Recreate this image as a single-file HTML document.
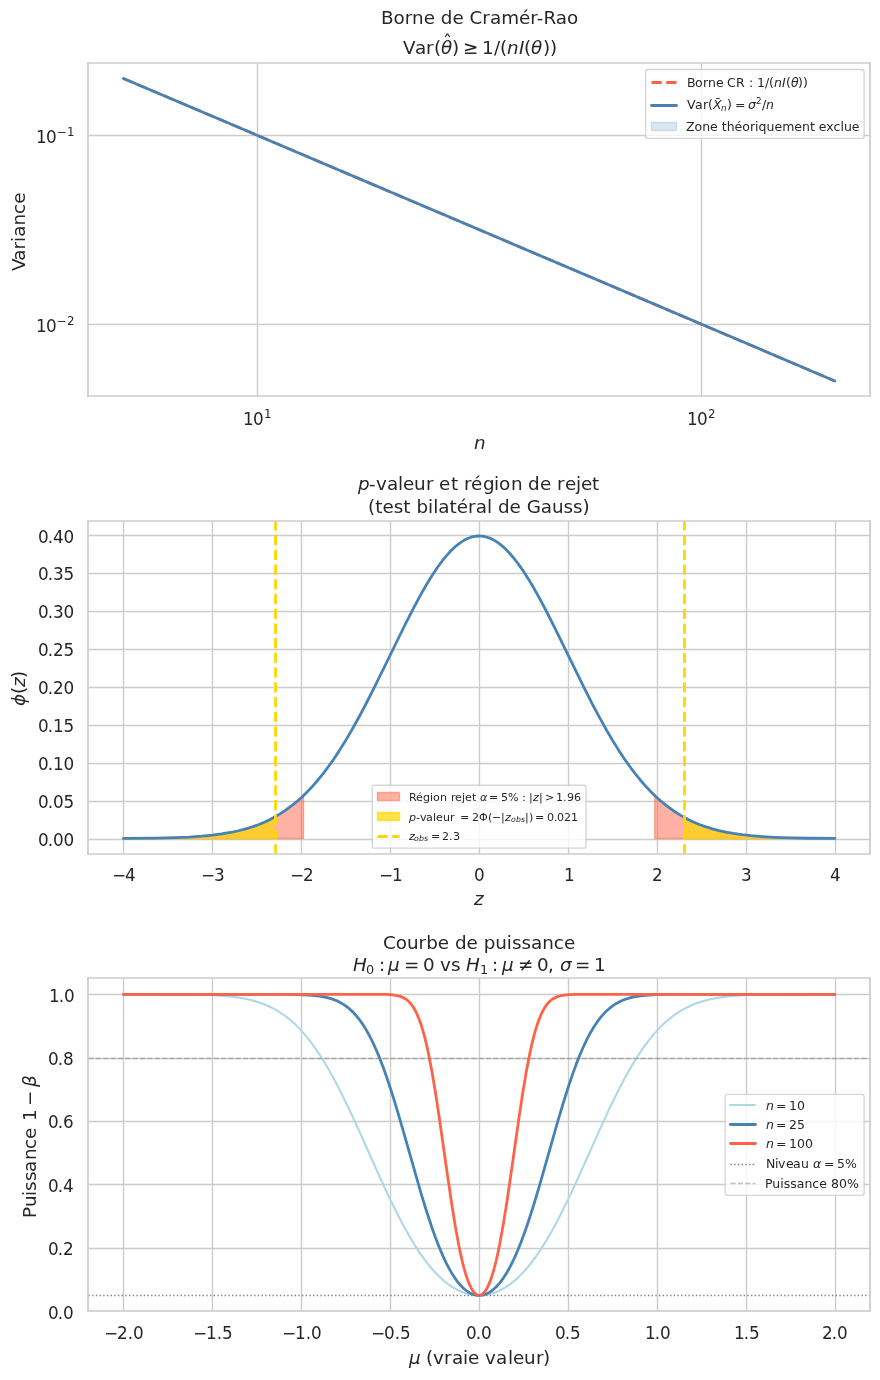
<!DOCTYPE html>
<html lang="fr">
<head>
<meta charset="utf-8">
<title>Borne de Cramér-Rao, p-valeur et courbe de puissance</title>
<style>
html,body{margin:0;padding:0;background:#ffffff;}
#fig{position:relative;width:880px;height:1380px;overflow:hidden;background:#ffffff;}
#fig svg{display:block;}
#fig text{white-space:pre;}
</style>
</head>
<body>
<div id="fig">
<svg width="880" height="1380" viewBox="7.0560 7.3440 633.6000 993.6000" style="position:absolute;left:0;top:0">
 <defs>
  <style type="text/css">*{stroke-linejoin: round; stroke-linecap: butt}</style>
 </defs>
 <g id="figure_1">
  <g id="patch_1">
   <path d="M -0.144 1008.144 L 647.856 1008.144 L 647.856 0.144 L -0.144 0.144 z" style="fill: #ffffff"/>
  </g>
  <g id="axes_1">
   <g id="patch_2">
    <path d="M 70.416 292.464 L 633.456 292.464 L 633.456 52.704 L 70.416 52.704 z" style="fill: #ffffff"/>
   </g>
   <g id="matplotlib.axis_1">
    <g id="xtick_1">
     <g id="line2d_1">
      <path d="M 192.456 292.824 L 192.456 53.064" clip-path="url(#p249465bc38)" style="fill: none; stroke: #cccccc; stroke-linecap: round"/>
     </g>
     <g id="text_1">
      <g transform="translate(181.296 316.224) scale(0.72)" style="fill: #262626">
       <text xml:space="preserve"><tspan x="1 11" y="-4" style="font-size: 16.806px; font-family: 'DejaVu Sans', 'Liberation Sans', sans-serif">10</tspan><tspan x="22" y="-11" style="font-size: 11.764px; font-family: 'DejaVu Sans', 'Liberation Sans', sans-serif">1</tspan></text>
      </g>
     </g>
    </g>
    <g id="xtick_2">
     <g id="line2d_2">
      <path d="M 512.136 292.824 L 512.136 53.064" clip-path="url(#p249465bc38)" style="fill: none; stroke: #cccccc; stroke-linecap: round"/>
     </g>
     <g id="text_2">
      <g transform="translate(500.976 316.224) scale(0.72)" style="fill: #262626">
       <text xml:space="preserve"><tspan x="1 11" y="-4" style="font-size: 16.806px; font-family: 'DejaVu Sans', 'Liberation Sans', sans-serif">10</tspan><tspan x="22" y="-11" style="font-size: 11.764px; font-family: 'DejaVu Sans', 'Liberation Sans', sans-serif">2</tspan></text>
      </g>
     </g>
    </g>
    <g id="xtick_3"/>
    <g id="xtick_4"/>
    <g id="xtick_5"/>
    <g id="xtick_6"/>
    <g id="xtick_7"/>
    <g id="xtick_8"/>
    <g id="xtick_9"/>
    <g id="xtick_10"/>
    <g id="xtick_11"/>
    <g id="xtick_12"/>
    <g id="xtick_13"/>
    <g id="xtick_14"/>
    <g id="xtick_15"/>
    <g id="xtick_16"/>
    <g id="text_3">
     <g transform="translate(347.616 332.784) scale(0.72)" style="fill: #262626">
      <text xml:space="preserve"><tspan x="1" y="-3" style="font-style: oblique; font-size: 18.333px; font-family: 'DejaVu Sans', 'Liberation Sans', sans-serif">n</tspan></text>
     </g>
    </g>
   </g>
   <g id="matplotlib.axis_2">
    <g id="ytick_1">
     <g id="line2d_3">
      <path d="M 70.776 240.984 L 633.816 240.984" clip-path="url(#p249465bc38)" style="fill: none; stroke: #cccccc; stroke-linecap: round"/>
     </g>
     <g id="text_4">
      <g transform="translate(32.256 249.264) scale(0.72)" style="fill: #262626">
       <text xml:space="preserve"><tspan x="1 11" y="-4" style="font-size: 16.806px; font-family: 'DejaVu Sans', 'Liberation Sans', sans-serif">10</tspan><tspan x="22 32" y="-11" style="font-size: 11.764px; font-family: 'DejaVu Sans', 'Liberation Sans', sans-serif">−2</tspan></text>
      </g>
     </g>
    </g>
    <g id="ytick_2">
     <g id="line2d_4">
      <path d="M 70.776 104.904 L 633.816 104.904" clip-path="url(#p249465bc38)" style="fill: none; stroke: #cccccc; stroke-linecap: round"/>
     </g>
     <g id="text_5">
      <g transform="translate(32.256 113.184) scale(0.72)" style="fill: #262626">
       <text xml:space="preserve"><tspan x="1 11" y="-4" style="font-size: 16.806px; font-family: 'DejaVu Sans', 'Liberation Sans', sans-serif">10</tspan><tspan x="22 32" y="-11" style="font-size: 11.764px; font-family: 'DejaVu Sans', 'Liberation Sans', sans-serif">−1</tspan></text>
      </g>
     </g>
    </g>
    <g id="ytick_3"/>
    <g id="ytick_4"/>
    <g id="ytick_5"/>
    <g id="ytick_6"/>
    <g id="ytick_7"/>
    <g id="ytick_8"/>
    <g id="ytick_9"/>
    <g id="ytick_10"/>
    <g id="ytick_11"/>
    <g id="ytick_12"/>
    <g id="ytick_13"/>
    <g id="ytick_14"/>
    <g id="ytick_15"/>
    <g id="ytick_16"/>
    <g id="text_6">
     <text transform="translate(25.776 202.464) rotate(-90) scale(0.72)" style="font-size: 18.333px; font-family: 'DejaVu Sans', 'Liberation Sans', sans-serif; fill: #262626" x="0 10.25 21.5 29.125 34.25 45.5 57.125 67.25" y="-1">Variance</text>
    </g>
   </g>
   <g id="line2d_5">
    <path d="M 95.935909 63.799636 L 608.134091 281.632364 L 608.134091 281.632364" clip-path="url(#p249465bc38)" style="fill: none; stroke-dasharray: 7.4,3.2; stroke-dashoffset: 0; stroke: #ff6347; stroke-width: 2"/>
   </g>
   <g id="line2d_6">
    <path d="M 95.935909 63.799636 L 608.134091 281.632364 L 608.134091 281.632364" clip-path="url(#p249465bc38)" style="fill: none; stroke: #4682b4; stroke-width: 2; stroke-linecap: round"/>
   </g>
   <g id="patch_3">
    <path d="M 70.416 292.464 L 70.416 52.704" style="fill: none; stroke: #cccccc; stroke-width: 1.25; stroke-linejoin: miter; stroke-linecap: square"/>
   </g>
   <g id="patch_4">
    <path d="M 633.456 292.464 L 633.456 52.704" style="fill: none; stroke: #cccccc; stroke-width: 1.25; stroke-linejoin: miter; stroke-linecap: square"/>
   </g>
   <g id="patch_5">
    <path d="M 70.416 292.464 L 633.456 292.464" style="fill: none; stroke: #cccccc; stroke-width: 1.25; stroke-linejoin: miter; stroke-linecap: square"/>
   </g>
   <g id="patch_6">
    <path d="M 70.416 52.704 L 633.456 52.704" style="fill: none; stroke: #cccccc; stroke-width: 1.25; stroke-linejoin: miter; stroke-linecap: square"/>
   </g>
   <g id="text_7">
    <text transform="translate(281.376 25.344) scale(0.72)" style="font-size: 18.333px; font-family: 'DejaVu Sans', 'Liberation Sans', sans-serif; fill: #262626" x="0 12.5 23.75 31 42.625 53.875 59.75 71.375 82.625 88.5 101.25 108.875 120.125 138 149.25 155.75 162.375 174.75 186" y="-1">Borne de Cramér-Rao</text>
    <g transform="translate(296.496 50.544) scale(0.72)" style="fill: #262626">
     <text xml:space="preserve"><tspan x="1 13 24 32" y="-6" style="font-size: 18.333px; font-family: 'DejaVu Sans', 'Liberation Sans', sans-serif">Var(</tspan><tspan x="50" y="-12" style="font-size: 18.333px; font-family: 'DejaVu Sans', 'Liberation Sans', sans-serif">̂</tspan><tspan x="39" y="-6" style="font-style: oblique; font-size: 18.333px; font-family: 'DejaVu Sans', 'Liberation Sans', sans-serif">θ</tspan><tspan x="50 61 80 92 98" y="-6" style="font-size: 18.333px; font-family: 'DejaVu Sans', 'Liberation Sans', sans-serif">)≥1/(</tspan><tspan x="105 117" y="-6" style="font-style: oblique; font-size: 18.333px; font-family: 'DejaVu Sans', 'Liberation Sans', sans-serif">nI</tspan><tspan x="122" y="-6" style="font-size: 18.333px; font-family: 'DejaVu Sans', 'Liberation Sans', sans-serif">(</tspan><tspan x="129" y="-6" style="font-style: oblique; font-size: 18.333px; font-family: 'DejaVu Sans', 'Liberation Sans', sans-serif">θ</tspan><tspan x="141 148" y="-6" style="font-size: 18.333px; font-family: 'DejaVu Sans', 'Liberation Sans', sans-serif">))</tspan></text>
    </g>
   </g>
   <g id="legend_1">
    <g id="patch_7">
     <path d="M 473.724 107.00475 L 627.444 107.00475 Q 629.244 107.00475 629.244 105.20475 L 629.244 59.208 Q 629.244 57.408 627.444 57.408 L 473.724 57.408 Q 471.924 57.408 471.924 59.208 L 471.924 105.20475 Q 471.924 107.00475 473.724 107.00475 z
" style="fill: #ffffff; stroke: #cccccc; stroke-linejoin: miter; fill-opacity: 0.8; stroke-opacity: 0.8"/>
    </g>
    <g id="line2d_7">
     <path d="M 476.136 66.744 L 484.776 66.744 L 494.136 66.744" style="fill: none; stroke-dasharray: 7.4,3.2; stroke-dashoffset: 0; stroke: #ff6347; stroke-width: 2"/>
    </g>
    <g id="text_8">
     <g transform="translate(500.976 72.864) scale(0.72)" style="fill: #262626">
      <text xml:space="preserve"><tspan x="1 9 17 22 30 37 41 50 59 63 67 71 79 83" y="-4" style="font-size: 12.5px; font-family: 'DejaVu Sans', 'Liberation Sans', sans-serif">Borne CR : 1/(</tspan><tspan x="88 96" y="-4" style="font-style: oblique; font-size: 12.5px; font-family: 'DejaVu Sans', 'Liberation Sans', sans-serif">nI</tspan><tspan x="100" y="-4" style="font-size: 12.5px; font-family: 'DejaVu Sans', 'Liberation Sans', sans-serif">(</tspan><tspan x="105" y="-4" style="font-style: oblique; font-size: 12.5px; font-family: 'DejaVu Sans', 'Liberation Sans', sans-serif">θ</tspan><tspan x="112 117" y="-4" style="font-size: 12.5px; font-family: 'DejaVu Sans', 'Liberation Sans', sans-serif">))</tspan></text>
     </g>
    </g>
    <g id="line2d_8">
     <path d="M 476.136 83.304 L 484.776 83.304 L 494.136 83.304" style="fill: none; stroke: #4682b4; stroke-width: 2; stroke-linecap: round"/>
    </g>
    <g id="text_9">
     <g transform="translate(500.976 90.864) scale(0.72)" style="fill: #262626">
      <text xml:space="preserve"><tspan x="1 9 17 22" y="-7" style="font-size: 12.5px; font-family: 'DejaVu Sans', 'Liberation Sans', sans-serif">Var(</tspan><tspan x="35" y="-9" style="font-size: 12.5px; font-family: 'DejaVu Sans', 'Liberation Sans', sans-serif">̄</tspan><tspan x="27" y="-7" style="font-style: oblique; font-size: 12.5px; font-family: 'DejaVu Sans', 'Liberation Sans', sans-serif">X</tspan><tspan x="35" y="-5" style="font-style: oblique; font-size: 8.75px; font-family: 'DejaVu Sans', 'Liberation Sans', sans-serif">n</tspan><tspan x="41 49" y="-7" style="font-size: 12.5px; font-family: 'DejaVu Sans', 'Liberation Sans', sans-serif">)=</tspan><tspan x="62" y="-7" style="font-style: oblique; font-size: 12.5px; font-family: 'DejaVu Sans', 'Liberation Sans', sans-serif">σ</tspan><tspan x="70" y="-12" style="font-size: 8.75px; font-family: 'DejaVu Sans', 'Liberation Sans', sans-serif">2</tspan><tspan x="76" y="-7" style="font-size: 12.5px; font-family: 'DejaVu Sans', 'Liberation Sans', sans-serif">/</tspan><tspan x="80" y="-7" style="font-style: oblique; font-size: 12.5px; font-family: 'DejaVu Sans', 'Liberation Sans', sans-serif">n</tspan></text>
     </g>
    </g>
    <g id="patch_8">
     <path d="M 476.136 101.304 L 494.136 101.304 L 494.136 95.544 L 476.136 95.544 z" style="fill: #4682b4; stroke: #4682b4; stroke-linejoin: miter; fill-opacity: 0.2; stroke-opacity: 0.2"/>
    </g>
    <g id="text_10">
     <text transform="translate(500.976 104.544) scale(0.72)" style="font-size: 12.5px; font-family: 'DejaVu Sans', 'Liberation Sans', sans-serif; fill: #262626" x="0 8.5 16.125 24 31.75 35.75 40.625 48.5 56.25 63.875 69 72.5 80.5 88.375 96.125 108.25 116 123.875 128.75 132.75 140.25 147.375 154.375 157.875 165.75" y="-4">Zone théoriquement exclue</text>
    </g>
   </g>
  </g>
  <g id="axes_2">
   <g id="patch_9">
    <path d="M 70.416 622.224 L 633.456 622.224 L 633.456 382.464 L 70.416 382.464 z" style="fill: #ffffff"/>
   </g>
   <g id="matplotlib.axis_3">
    <g id="xtick_17">
     <g id="line2d_9">
      <path d="M 95.976 622.584 L 95.976 382.824" clip-path="url(#pec4d57082e)" style="fill: none; stroke: #cccccc; stroke-linecap: round"/>
     </g>
     <g id="text_11">
      <text transform="translate(88.416 642.384) scale(0.72)" style="font-size: 16.806px; font-family: 'DejaVu Sans', 'Liberation Sans', sans-serif; fill: #262626" x="-1 12" y="-1">−4</text>
     </g>
    </g>
    <g id="xtick_18">
     <g id="line2d_10">
      <path d="M 160.056 622.584 L 160.056 382.824" clip-path="url(#pec4d57082e)" style="fill: none; stroke: #cccccc; stroke-linecap: round"/>
     </g>
     <g id="text_12">
      <text transform="translate(152.496 642.384) scale(0.72)" style="font-size: 16.806px; font-family: 'DejaVu Sans', 'Liberation Sans', sans-serif; fill: #262626" x="-1 12" y="-1">−3</text>
     </g>
    </g>
    <g id="xtick_19">
     <g id="line2d_11">
      <path d="M 224.136 622.584 L 224.136 382.824" clip-path="url(#pec4d57082e)" style="fill: none; stroke: #cccccc; stroke-linecap: round"/>
     </g>
     <g id="text_13">
      <text transform="translate(216.576 642.384) scale(0.72)" style="font-size: 16.806px; font-family: 'DejaVu Sans', 'Liberation Sans', sans-serif; fill: #262626" x="-1 12" y="-1">−2</text>
     </g>
    </g>
    <g id="xtick_20">
     <g id="line2d_12">
      <path d="M 288.216 622.584 L 288.216 382.824" clip-path="url(#pec4d57082e)" style="fill: none; stroke: #cccccc; stroke-linecap: round"/>
     </g>
     <g id="text_14">
      <text transform="translate(280.656 642.384) scale(0.72)" style="font-size: 16.806px; font-family: 'DejaVu Sans', 'Liberation Sans', sans-serif; fill: #262626" x="-1 12" y="-1">−1</text>
     </g>
    </g>
    <g id="xtick_21">
     <g id="line2d_13">
      <path d="M 352.296 622.584 L 352.296 382.824" clip-path="url(#pec4d57082e)" style="fill: none; stroke: #cccccc; stroke-linecap: round"/>
     </g>
     <g id="text_15">
      <text transform="translate(349.056 642.384) scale(0.72)" style="font-size: 16.806px; font-family: 'DejaVu Sans', 'Liberation Sans', sans-serif; fill: #262626" x="-1" y="-1">0</text>
     </g>
    </g>
    <g id="xtick_22">
     <g id="line2d_14">
      <path d="M 416.376 622.584 L 416.376 382.824" clip-path="url(#pec4d57082e)" style="fill: none; stroke: #cccccc; stroke-linecap: round"/>
     </g>
     <g id="text_16">
      <text transform="translate(413.856 642.384) scale(0.72)" style="font-size: 16.806px; font-family: 'DejaVu Sans', 'Liberation Sans', sans-serif; fill: #262626" x="-1" y="-1">1</text>
     </g>
    </g>
    <g id="xtick_23">
     <g id="line2d_15">
      <path d="M 480.456 622.584 L 480.456 382.824" clip-path="url(#pec4d57082e)" style="fill: none; stroke: #cccccc; stroke-linecap: round"/>
     </g>
     <g id="text_17">
      <text transform="translate(477.216 642.384) scale(0.72)" style="font-size: 16.806px; font-family: 'DejaVu Sans', 'Liberation Sans', sans-serif; fill: #262626" x="-1" y="-1">2</text>
     </g>
    </g>
    <g id="xtick_24">
     <g id="line2d_16">
      <path d="M 544.536 622.584 L 544.536 382.824" clip-path="url(#pec4d57082e)" style="fill: none; stroke: #cccccc; stroke-linecap: round"/>
     </g>
     <g id="text_18">
      <text transform="translate(541.296 642.384) scale(0.72)" style="font-size: 16.806px; font-family: 'DejaVu Sans', 'Liberation Sans', sans-serif; fill: #262626" x="-1" y="-1">3</text>
     </g>
    </g>
    <g id="xtick_25">
     <g id="line2d_17">
      <path d="M 608.616 622.584 L 608.616 382.824" clip-path="url(#pec4d57082e)" style="fill: none; stroke: #cccccc; stroke-linecap: round"/>
     </g>
     <g id="text_19">
      <text transform="translate(604.656 642.384) scale(0.72)" style="font-size: 16.806px; font-family: 'DejaVu Sans', 'Liberation Sans', sans-serif; fill: #262626" x="0" y="-1">4</text>
     </g>
    </g>
    <g id="text_20">
     <g transform="translate(347.616 661.104) scale(0.72)" style="fill: #262626">
      <text xml:space="preserve"><tspan x="1" y="-3" style="font-style: oblique; font-size: 18.333px; font-family: 'DejaVu Sans', 'Liberation Sans', sans-serif">z</tspan></text>
     </g>
    </g>
   </g>
   <g id="matplotlib.axis_4">
    <g id="ytick_17">
     <g id="line2d_18">
      <path d="M 70.776 611.784 L 633.816 611.784" clip-path="url(#pec4d57082e)" style="fill: none; stroke: #cccccc; stroke-linecap: round"/>
     </g>
     <g id="text_21">
      <text transform="translate(35.136 617.184) scale(0.72)" style="font-size: 16.806px; font-family: 'DejaVu Sans', 'Liberation Sans', sans-serif; fill: #262626" x="-1 8.625 13.875 24.5" y="-1">0.00</text>
     </g>
    </g>
    <g id="ytick_18">
     <g id="line2d_19">
      <path d="M 70.776 584.424 L 633.816 584.424" clip-path="url(#pec4d57082e)" style="fill: none; stroke: #cccccc; stroke-linecap: round"/>
     </g>
     <g id="text_22">
      <text transform="translate(35.136 589.824) scale(0.72)" style="font-size: 16.806px; font-family: 'DejaVu Sans', 'Liberation Sans', sans-serif; fill: #262626" x="-1 8.625 13.875 24.5" y="-1">0.05</text>
     </g>
    </g>
    <g id="ytick_19">
     <g id="line2d_20">
      <path d="M 70.776 557.064 L 633.816 557.064" clip-path="url(#pec4d57082e)" style="fill: none; stroke: #cccccc; stroke-linecap: round"/>
     </g>
     <g id="text_23">
      <text transform="translate(35.136 562.464) scale(0.72)" style="font-size: 16.806px; font-family: 'DejaVu Sans', 'Liberation Sans', sans-serif; fill: #262626" x="-1 8.625 13.875 24.5" y="-1">0.10</text>
     </g>
    </g>
    <g id="ytick_20">
     <g id="line2d_21">
      <path d="M 70.776 529.704 L 633.816 529.704" clip-path="url(#pec4d57082e)" style="fill: none; stroke: #cccccc; stroke-linecap: round"/>
     </g>
     <g id="text_24">
      <text transform="translate(35.136 535.104) scale(0.72)" style="font-size: 16.806px; font-family: 'DejaVu Sans', 'Liberation Sans', sans-serif; fill: #262626" x="-1 8.625 13.875 24.5" y="-1">0.15</text>
     </g>
    </g>
    <g id="ytick_21">
     <g id="line2d_22">
      <path d="M 70.776 502.344 L 633.816 502.344" clip-path="url(#pec4d57082e)" style="fill: none; stroke: #cccccc; stroke-linecap: round"/>
     </g>
     <g id="text_25">
      <text transform="translate(35.136 507.744) scale(0.72)" style="font-size: 16.806px; font-family: 'DejaVu Sans', 'Liberation Sans', sans-serif; fill: #262626" x="-1 8.625 13.875 24.5" y="-1">0.20</text>
     </g>
    </g>
    <g id="ytick_22">
     <g id="line2d_23">
      <path d="M 70.776 474.984 L 633.816 474.984" clip-path="url(#pec4d57082e)" style="fill: none; stroke: #cccccc; stroke-linecap: round"/>
     </g>
     <g id="text_26">
      <text transform="translate(35.136 480.384) scale(0.72)" style="font-size: 16.806px; font-family: 'DejaVu Sans', 'Liberation Sans', sans-serif; fill: #262626" x="-1 8.625 13.875 24.5" y="-1">0.25</text>
     </g>
    </g>
    <g id="ytick_23">
     <g id="line2d_24">
      <path d="M 70.776 447.624 L 633.816 447.624" clip-path="url(#pec4d57082e)" style="fill: none; stroke: #cccccc; stroke-linecap: round"/>
     </g>
     <g id="text_27">
      <text transform="translate(35.136 453.024) scale(0.72)" style="font-size: 16.806px; font-family: 'DejaVu Sans', 'Liberation Sans', sans-serif; fill: #262626" x="-1 8.625 13.875 24.5" y="-1">0.30</text>
     </g>
    </g>
    <g id="ytick_24">
     <g id="line2d_25">
      <path d="M 70.776 420.264 L 633.816 420.264" clip-path="url(#pec4d57082e)" style="fill: none; stroke: #cccccc; stroke-linecap: round"/>
     </g>
     <g id="text_28">
      <text transform="translate(35.136 425.664) scale(0.72)" style="font-size: 16.806px; font-family: 'DejaVu Sans', 'Liberation Sans', sans-serif; fill: #262626" x="-1 8.625 13.875 24.5" y="-1">0.35</text>
     </g>
    </g>
    <g id="ytick_25">
     <g id="line2d_26">
      <path d="M 70.776 392.904 L 633.816 392.904" clip-path="url(#pec4d57082e)" style="fill: none; stroke: #cccccc; stroke-linecap: round"/>
     </g>
     <g id="text_29">
      <text transform="translate(35.136 399.024) scale(0.72)" style="font-size: 16.806px; font-family: 'DejaVu Sans', 'Liberation Sans', sans-serif; fill: #262626" x="-1 8.625 13.875 24.5" y="-1">0.40</text>
     </g>
    </g>
    <g id="text_30">
     <g transform="translate(30.096 516.384) rotate(-90) scale(0.72)" style="fill: #262626">
      <text xml:space="preserve"><tspan x="1" y="-7" style="font-style: oblique; font-size: 18.333px; font-family: 'DejaVu Sans', 'Liberation Sans', sans-serif">ϕ</tspan><tspan x="13" y="-7" style="font-size: 18.333px; font-family: 'DejaVu Sans', 'Liberation Sans', sans-serif">(</tspan><tspan x="20" y="-7" style="font-style: oblique; font-size: 18.333px; font-family: 'DejaVu Sans', 'Liberation Sans', sans-serif">z</tspan><tspan x="29" y="-7" style="font-size: 18.333px; font-family: 'DejaVu Sans', 'Liberation Sans', sans-serif">)</tspan></text>
     </g>
    </g>
   </g>
   <g id="FillBetweenPolyCollection_1">
    <path d="M 95.935909 611.092364 L 95.935909 611.019285 L 97.219614 611.013199 L 98.503319 611.00664 L 99.787023 610.999575 L 101.070728 610.991968 L 102.354433 610.983781 L 103.638137 610.974974 L 104.921842 610.965503 L 106.205547 610.955324 L 107.489252 610.944387 L 108.772956 610.932641 L 110.056661 610.920033 L 111.340366 610.906503 L 112.62407 610.891993 L 113.907775 610.876436 L 115.19148 610.859765 L 116.475185 610.841907 L 117.758889 610.822787 L 119.042594 610.802324 L 120.326299 610.780433 L 121.610003 610.757025 L 122.893708 610.732005 L 124.177413 610.705273 L 125.461118 610.676726 L 126.744822 610.646253 L 128.028527 610.613738 L 129.312232 610.57906 L 130.595936 610.54209 L 131.879641 610.502695 L 133.163346 610.460734 L 134.447051 610.416058 L 135.730755 610.368514 L 137.01446 610.317938 L 138.298165 610.264162 L 139.581869 610.207008 L 140.865574 610.14629 L 142.149279 610.081813 L 143.432984 610.013377 L 144.716688 609.940769 L 146.000393 609.863769 L 147.284098 609.782148 L 148.567802 609.695666 L 149.851507 609.604073 L 151.135212 609.507112 L 152.418917 609.404512 L 153.702621 609.295994 L 154.986326 609.181268 L 156.270031 609.060032 L 157.553735 608.931973 L 158.83744 608.796768 L 160.121145 608.654082 L 161.40485 608.503569 L 162.688554 608.344869 L 163.972259 608.177612 L 165.255964 608.001416 L 166.539668 607.815886 L 167.823373 607.620616 L 169.107078 607.415188 L 170.390783 607.199169 L 171.674487 606.972116 L 172.958192 606.733575 L 174.241897 606.483076 L 175.525602 606.220141 L 176.809306 605.944276 L 178.093011 605.654978 L 179.376716 605.351731 L 180.66042 605.034008 L 181.944125 604.70127 L 183.22783 604.352967 L 184.511535 603.988539 L 185.795239 603.607413 L 187.078944 603.209011 L 188.362649 602.792739 L 189.646353 602.357999 L 190.930058 601.904181 L 192.213763 601.430668 L 193.497468 600.936837 L 194.781172 600.422055 L 196.064877 599.885685 L 197.348582 599.327084 L 198.632286 598.745603 L 199.915991 598.140591 L 201.199696 597.511394 L 202.483401 596.857354 L 203.767105 596.177813 L 205.05081 595.472114 L 206.334515 594.739599 L 207.618219 593.979613 L 208.901924 593.191505 L 210.185629 592.374628 L 211.469334 591.52834 L 212.753038 590.652008 L 214.036743 589.745006 L 215.320448 588.806718 L 216.604152 587.83654 L 217.887857 586.833881 L 219.171562 585.798163 L 220.455267 584.728825 L 221.738971 583.625325 L 223.022676 582.487137 L 224.306381 581.313758 L 225.590085 580.104707 L 225.590085 611.092364 L 225.590085 611.092364 L 224.306381 611.092364 L 223.022676 611.092364 L 221.738971 611.092364 L 220.455267 611.092364 L 219.171562 611.092364 L 217.887857 611.092364 L 216.604152 611.092364 L 215.320448 611.092364 L 214.036743 611.092364 L 212.753038 611.092364 L 211.469334 611.092364 L 210.185629 611.092364 L 208.901924 611.092364 L 207.618219 611.092364 L 206.334515 611.092364 L 205.05081 611.092364 L 203.767105 611.092364 L 202.483401 611.092364 L 201.199696 611.092364 L 199.915991 611.092364 L 198.632286 611.092364 L 197.348582 611.092364 L 196.064877 611.092364 L 194.781172 611.092364 L 193.497468 611.092364 L 192.213763 611.092364 L 190.930058 611.092364 L 189.646353 611.092364 L 188.362649 611.092364 L 187.078944 611.092364 L 185.795239 611.092364 L 184.511535 611.092364 L 183.22783 611.092364 L 181.944125 611.092364 L 180.66042 611.092364 L 179.376716 611.092364 L 178.093011 611.092364 L 176.809306 611.092364 L 175.525602 611.092364 L 174.241897 611.092364 L 172.958192 611.092364 L 171.674487 611.092364 L 170.390783 611.092364 L 169.107078 611.092364 L 167.823373 611.092364 L 166.539668 611.092364 L 165.255964 611.092364 L 163.972259 611.092364 L 162.688554 611.092364 L 161.40485 611.092364 L 160.121145 611.092364 L 158.83744 611.092364 L 157.553735 611.092364 L 156.270031 611.092364 L 154.986326 611.092364 L 153.702621 611.092364 L 152.418917 611.092364 L 151.135212 611.092364 L 149.851507 611.092364 L 148.567802 611.092364 L 147.284098 611.092364 L 146.000393 611.092364 L 144.716688 611.092364 L 143.432984 611.092364 L 142.149279 611.092364 L 140.865574 611.092364 L 139.581869 611.092364 L 138.298165 611.092364 L 137.01446 611.092364 L 135.730755 611.092364 L 134.447051 611.092364 L 133.163346 611.092364 L 131.879641 611.092364 L 130.595936 611.092364 L 129.312232 611.092364 L 128.028527 611.092364 L 126.744822 611.092364 L 125.461118 611.092364 L 124.177413 611.092364 L 122.893708 611.092364 L 121.610003 611.092364 L 120.326299 611.092364 L 119.042594 611.092364 L 117.758889 611.092364 L 116.475185 611.092364 L 115.19148 611.092364 L 113.907775 611.092364 L 112.62407 611.092364 L 111.340366 611.092364 L 110.056661 611.092364 L 108.772956 611.092364 L 107.489252 611.092364 L 106.205547 611.092364 L 104.921842 611.092364 L 103.638137 611.092364 L 102.354433 611.092364 L 101.070728 611.092364 L 99.787023 611.092364 L 98.503319 611.092364 L 97.219614 611.092364 L 95.935909 611.092364 z
" clip-path="url(#pec4d57082e)" style="fill: #ff6347; fill-opacity: 0.5; stroke: #ff6347; stroke-opacity: 0.5"/>
    <path d="M 478.479915 611.092364 L 478.479915 580.104707 L 479.763619 581.313758 L 481.047324 582.487137 L 482.331029 583.625325 L 483.614733 584.728825 L 484.898438 585.798163 L 486.182143 586.833881 L 487.465848 587.83654 L 488.749552 588.806718 L 490.033257 589.745006 L 491.316962 590.652008 L 492.600666 591.52834 L 493.884371 592.374628 L 495.168076 593.191505 L 496.451781 593.979613 L 497.735485 594.739599 L 499.01919 595.472114 L 500.302895 596.177813 L 501.586599 596.857354 L 502.870304 597.511394 L 504.154009 598.140591 L 505.437714 598.745603 L 506.721418 599.327084 L 508.005123 599.885685 L 509.288828 600.422055 L 510.572532 600.936837 L 511.856237 601.430668 L 513.139942 601.904181 L 514.423647 602.357999 L 515.707351 602.792739 L 516.991056 603.209011 L 518.274761 603.607413 L 519.558465 603.988539 L 520.84217 604.352967 L 522.125875 604.70127 L 523.40958 605.034008 L 524.693284 605.351731 L 525.976989 605.654978 L 527.260694 605.944276 L 528.544398 606.220141 L 529.828103 606.483076 L 531.111808 606.733575 L 532.395513 606.972116 L 533.679217 607.199169 L 534.962922 607.415188 L 536.246627 607.620616 L 537.530332 607.815886 L 538.814036 608.001416 L 540.097741 608.177612 L 541.381446 608.344869 L 542.66515 608.503569 L 543.948855 608.654082 L 545.23256 608.796768 L 546.516265 608.931973 L 547.799969 609.060032 L 549.083674 609.181268 L 550.367379 609.295994 L 551.651083 609.404512 L 552.934788 609.507112 L 554.218493 609.604073 L 555.502198 609.695666 L 556.785902 609.782148 L 558.069607 609.863769 L 559.353312 609.940769 L 560.637016 610.013377 L 561.920721 610.081813 L 563.204426 610.14629 L 564.488131 610.207008 L 565.771835 610.264162 L 567.05554 610.317938 L 568.339245 610.368514 L 569.622949 610.416058 L 570.906654 610.460734 L 572.190359 610.502695 L 573.474064 610.54209 L 574.757768 610.57906 L 576.041473 610.613738 L 577.325178 610.646253 L 578.608882 610.676726 L 579.892587 610.705273 L 581.176292 610.732005 L 582.459997 610.757025 L 583.743701 610.780433 L 585.027406 610.802324 L 586.311111 610.822787 L 587.594815 610.841907 L 588.87852 610.859765 L 590.162225 610.876436 L 591.44593 610.891993 L 592.729634 610.906503 L 594.013339 610.920033 L 595.297044 610.932641 L 596.580748 610.944387 L 597.864453 610.955324 L 599.148158 610.965503 L 600.431863 610.974974 L 601.715567 610.983781 L 602.999272 610.991968 L 604.282977 610.999575 L 605.566681 611.00664 L 606.850386 611.013199 L 608.134091 611.019285 L 608.134091 611.092364 L 608.134091 611.092364 L 606.850386 611.092364 L 605.566681 611.092364 L 604.282977 611.092364 L 602.999272 611.092364 L 601.715567 611.092364 L 600.431863 611.092364 L 599.148158 611.092364 L 597.864453 611.092364 L 596.580748 611.092364 L 595.297044 611.092364 L 594.013339 611.092364 L 592.729634 611.092364 L 591.44593 611.092364 L 590.162225 611.092364 L 588.87852 611.092364 L 587.594815 611.092364 L 586.311111 611.092364 L 585.027406 611.092364 L 583.743701 611.092364 L 582.459997 611.092364 L 581.176292 611.092364 L 579.892587 611.092364 L 578.608882 611.092364 L 577.325178 611.092364 L 576.041473 611.092364 L 574.757768 611.092364 L 573.474064 611.092364 L 572.190359 611.092364 L 570.906654 611.092364 L 569.622949 611.092364 L 568.339245 611.092364 L 567.05554 611.092364 L 565.771835 611.092364 L 564.488131 611.092364 L 563.204426 611.092364 L 561.920721 611.092364 L 560.637016 611.092364 L 559.353312 611.092364 L 558.069607 611.092364 L 556.785902 611.092364 L 555.502198 611.092364 L 554.218493 611.092364 L 552.934788 611.092364 L 551.651083 611.092364 L 550.367379 611.092364 L 549.083674 611.092364 L 547.799969 611.092364 L 546.516265 611.092364 L 545.23256 611.092364 L 543.948855 611.092364 L 542.66515 611.092364 L 541.381446 611.092364 L 540.097741 611.092364 L 538.814036 611.092364 L 537.530332 611.092364 L 536.246627 611.092364 L 534.962922 611.092364 L 533.679217 611.092364 L 532.395513 611.092364 L 531.111808 611.092364 L 529.828103 611.092364 L 528.544398 611.092364 L 527.260694 611.092364 L 525.976989 611.092364 L 524.693284 611.092364 L 523.40958 611.092364 L 522.125875 611.092364 L 520.84217 611.092364 L 519.558465 611.092364 L 518.274761 611.092364 L 516.991056 611.092364 L 515.707351 611.092364 L 514.423647 611.092364 L 513.139942 611.092364 L 511.856237 611.092364 L 510.572532 611.092364 L 509.288828 611.092364 L 508.005123 611.092364 L 506.721418 611.092364 L 505.437714 611.092364 L 504.154009 611.092364 L 502.870304 611.092364 L 501.586599 611.092364 L 500.302895 611.092364 L 499.01919 611.092364 L 497.735485 611.092364 L 496.451781 611.092364 L 495.168076 611.092364 L 493.884371 611.092364 L 492.600666 611.092364 L 491.316962 611.092364 L 490.033257 611.092364 L 488.749552 611.092364 L 487.465848 611.092364 L 486.182143 611.092364 L 484.898438 611.092364 L 483.614733 611.092364 L 482.331029 611.092364 L 481.047324 611.092364 L 479.763619 611.092364 L 478.479915 611.092364 z
" clip-path="url(#pec4d57082e)" style="fill: #ff6347; fill-opacity: 0.5; stroke: #ff6347; stroke-opacity: 0.5"/>
   </g>
   <g id="FillBetweenPolyCollection_2">
    <path d="M 95.935909 611.092364 L 95.935909 611.019285 L 97.219614 611.013199 L 98.503319 611.00664 L 99.787023 610.999575 L 101.070728 610.991968 L 102.354433 610.983781 L 103.638137 610.974974 L 104.921842 610.965503 L 106.205547 610.955324 L 107.489252 610.944387 L 108.772956 610.932641 L 110.056661 610.920033 L 111.340366 610.906503 L 112.62407 610.891993 L 113.907775 610.876436 L 115.19148 610.859765 L 116.475185 610.841907 L 117.758889 610.822787 L 119.042594 610.802324 L 120.326299 610.780433 L 121.610003 610.757025 L 122.893708 610.732005 L 124.177413 610.705273 L 125.461118 610.676726 L 126.744822 610.646253 L 128.028527 610.613738 L 129.312232 610.57906 L 130.595936 610.54209 L 131.879641 610.502695 L 133.163346 610.460734 L 134.447051 610.416058 L 135.730755 610.368514 L 137.01446 610.317938 L 138.298165 610.264162 L 139.581869 610.207008 L 140.865574 610.14629 L 142.149279 610.081813 L 143.432984 610.013377 L 144.716688 609.940769 L 146.000393 609.863769 L 147.284098 609.782148 L 148.567802 609.695666 L 149.851507 609.604073 L 151.135212 609.507112 L 152.418917 609.404512 L 153.702621 609.295994 L 154.986326 609.181268 L 156.270031 609.060032 L 157.553735 608.931973 L 158.83744 608.796768 L 160.121145 608.654082 L 161.40485 608.503569 L 162.688554 608.344869 L 163.972259 608.177612 L 165.255964 608.001416 L 166.539668 607.815886 L 167.823373 607.620616 L 169.107078 607.415188 L 170.390783 607.199169 L 171.674487 606.972116 L 172.958192 606.733575 L 174.241897 606.483076 L 175.525602 606.220141 L 176.809306 605.944276 L 178.093011 605.654978 L 179.376716 605.351731 L 180.66042 605.034008 L 181.944125 604.70127 L 183.22783 604.352967 L 184.511535 603.988539 L 185.795239 603.607413 L 187.078944 603.209011 L 188.362649 602.792739 L 189.646353 602.357999 L 190.930058 601.904181 L 192.213763 601.430668 L 193.497468 600.936837 L 194.781172 600.422055 L 196.064877 599.885685 L 197.348582 599.327084 L 198.632286 598.745603 L 199.915991 598.140591 L 201.199696 597.511394 L 202.483401 596.857354 L 203.767105 596.177813 L 203.767105 611.092364 L 203.767105 611.092364 L 202.483401 611.092364 L 201.199696 611.092364 L 199.915991 611.092364 L 198.632286 611.092364 L 197.348582 611.092364 L 196.064877 611.092364 L 194.781172 611.092364 L 193.497468 611.092364 L 192.213763 611.092364 L 190.930058 611.092364 L 189.646353 611.092364 L 188.362649 611.092364 L 187.078944 611.092364 L 185.795239 611.092364 L 184.511535 611.092364 L 183.22783 611.092364 L 181.944125 611.092364 L 180.66042 611.092364 L 179.376716 611.092364 L 178.093011 611.092364 L 176.809306 611.092364 L 175.525602 611.092364 L 174.241897 611.092364 L 172.958192 611.092364 L 171.674487 611.092364 L 170.390783 611.092364 L 169.107078 611.092364 L 167.823373 611.092364 L 166.539668 611.092364 L 165.255964 611.092364 L 163.972259 611.092364 L 162.688554 611.092364 L 161.40485 611.092364 L 160.121145 611.092364 L 158.83744 611.092364 L 157.553735 611.092364 L 156.270031 611.092364 L 154.986326 611.092364 L 153.702621 611.092364 L 152.418917 611.092364 L 151.135212 611.092364 L 149.851507 611.092364 L 148.567802 611.092364 L 147.284098 611.092364 L 146.000393 611.092364 L 144.716688 611.092364 L 143.432984 611.092364 L 142.149279 611.092364 L 140.865574 611.092364 L 139.581869 611.092364 L 138.298165 611.092364 L 137.01446 611.092364 L 135.730755 611.092364 L 134.447051 611.092364 L 133.163346 611.092364 L 131.879641 611.092364 L 130.595936 611.092364 L 129.312232 611.092364 L 128.028527 611.092364 L 126.744822 611.092364 L 125.461118 611.092364 L 124.177413 611.092364 L 122.893708 611.092364 L 121.610003 611.092364 L 120.326299 611.092364 L 119.042594 611.092364 L 117.758889 611.092364 L 116.475185 611.092364 L 115.19148 611.092364 L 113.907775 611.092364 L 112.62407 611.092364 L 111.340366 611.092364 L 110.056661 611.092364 L 108.772956 611.092364 L 107.489252 611.092364 L 106.205547 611.092364 L 104.921842 611.092364 L 103.638137 611.092364 L 102.354433 611.092364 L 101.070728 611.092364 L 99.787023 611.092364 L 98.503319 611.092364 L 97.219614 611.092364 L 95.935909 611.092364 z
" clip-path="url(#pec4d57082e)" style="fill: #ffd700; fill-opacity: 0.7; stroke: #ffd700; stroke-opacity: 0.7"/>
    <path d="M 500.302895 611.092364 L 500.302895 596.177813 L 501.586599 596.857354 L 502.870304 597.511394 L 504.154009 598.140591 L 505.437714 598.745603 L 506.721418 599.327084 L 508.005123 599.885685 L 509.288828 600.422055 L 510.572532 600.936837 L 511.856237 601.430668 L 513.139942 601.904181 L 514.423647 602.357999 L 515.707351 602.792739 L 516.991056 603.209011 L 518.274761 603.607413 L 519.558465 603.988539 L 520.84217 604.352967 L 522.125875 604.70127 L 523.40958 605.034008 L 524.693284 605.351731 L 525.976989 605.654978 L 527.260694 605.944276 L 528.544398 606.220141 L 529.828103 606.483076 L 531.111808 606.733575 L 532.395513 606.972116 L 533.679217 607.199169 L 534.962922 607.415188 L 536.246627 607.620616 L 537.530332 607.815886 L 538.814036 608.001416 L 540.097741 608.177612 L 541.381446 608.344869 L 542.66515 608.503569 L 543.948855 608.654082 L 545.23256 608.796768 L 546.516265 608.931973 L 547.799969 609.060032 L 549.083674 609.181268 L 550.367379 609.295994 L 551.651083 609.404512 L 552.934788 609.507112 L 554.218493 609.604073 L 555.502198 609.695666 L 556.785902 609.782148 L 558.069607 609.863769 L 559.353312 609.940769 L 560.637016 610.013377 L 561.920721 610.081813 L 563.204426 610.14629 L 564.488131 610.207008 L 565.771835 610.264162 L 567.05554 610.317938 L 568.339245 610.368514 L 569.622949 610.416058 L 570.906654 610.460734 L 572.190359 610.502695 L 573.474064 610.54209 L 574.757768 610.57906 L 576.041473 610.613738 L 577.325178 610.646253 L 578.608882 610.676726 L 579.892587 610.705273 L 581.176292 610.732005 L 582.459997 610.757025 L 583.743701 610.780433 L 585.027406 610.802324 L 586.311111 610.822787 L 587.594815 610.841907 L 588.87852 610.859765 L 590.162225 610.876436 L 591.44593 610.891993 L 592.729634 610.906503 L 594.013339 610.920033 L 595.297044 610.932641 L 596.580748 610.944387 L 597.864453 610.955324 L 599.148158 610.965503 L 600.431863 610.974974 L 601.715567 610.983781 L 602.999272 610.991968 L 604.282977 610.999575 L 605.566681 611.00664 L 606.850386 611.013199 L 608.134091 611.019285 L 608.134091 611.092364 L 608.134091 611.092364 L 606.850386 611.092364 L 605.566681 611.092364 L 604.282977 611.092364 L 602.999272 611.092364 L 601.715567 611.092364 L 600.431863 611.092364 L 599.148158 611.092364 L 597.864453 611.092364 L 596.580748 611.092364 L 595.297044 611.092364 L 594.013339 611.092364 L 592.729634 611.092364 L 591.44593 611.092364 L 590.162225 611.092364 L 588.87852 611.092364 L 587.594815 611.092364 L 586.311111 611.092364 L 585.027406 611.092364 L 583.743701 611.092364 L 582.459997 611.092364 L 581.176292 611.092364 L 579.892587 611.092364 L 578.608882 611.092364 L 577.325178 611.092364 L 576.041473 611.092364 L 574.757768 611.092364 L 573.474064 611.092364 L 572.190359 611.092364 L 570.906654 611.092364 L 569.622949 611.092364 L 568.339245 611.092364 L 567.05554 611.092364 L 565.771835 611.092364 L 564.488131 611.092364 L 563.204426 611.092364 L 561.920721 611.092364 L 560.637016 611.092364 L 559.353312 611.092364 L 558.069607 611.092364 L 556.785902 611.092364 L 555.502198 611.092364 L 554.218493 611.092364 L 552.934788 611.092364 L 551.651083 611.092364 L 550.367379 611.092364 L 549.083674 611.092364 L 547.799969 611.092364 L 546.516265 611.092364 L 545.23256 611.092364 L 543.948855 611.092364 L 542.66515 611.092364 L 541.381446 611.092364 L 540.097741 611.092364 L 538.814036 611.092364 L 537.530332 611.092364 L 536.246627 611.092364 L 534.962922 611.092364 L 533.679217 611.092364 L 532.395513 611.092364 L 531.111808 611.092364 L 529.828103 611.092364 L 528.544398 611.092364 L 527.260694 611.092364 L 525.976989 611.092364 L 524.693284 611.092364 L 523.40958 611.092364 L 522.125875 611.092364 L 520.84217 611.092364 L 519.558465 611.092364 L 518.274761 611.092364 L 516.991056 611.092364 L 515.707351 611.092364 L 514.423647 611.092364 L 513.139942 611.092364 L 511.856237 611.092364 L 510.572532 611.092364 L 509.288828 611.092364 L 508.005123 611.092364 L 506.721418 611.092364 L 505.437714 611.092364 L 504.154009 611.092364 L 502.870304 611.092364 L 501.586599 611.092364 L 500.302895 611.092364 z
" clip-path="url(#pec4d57082e)" style="fill: #ffd700; fill-opacity: 0.7; stroke: #ffd700; stroke-opacity: 0.7"/>
   </g>
   <g id="line2d_27">
    <path d="M 95.935909 611.019285 L 119.042594 610.802324 L 133.163346 610.460734 L 143.432984 610.013377 L 152.418917 609.404512 L 160.121145 608.654082 L 166.539668 607.815886 L 172.958192 606.733575 L 178.093011 605.654978 L 183.22783 604.352967 L 188.362649 602.792739 L 193.497468 600.936837 L 197.348582 599.327084 L 201.199696 597.511394 L 205.05081 595.472114 L 208.901924 593.191505 L 212.753038 590.652008 L 216.604152 587.83654 L 220.455267 584.728825 L 224.306381 581.313758 L 228.157495 577.577788 L 232.008609 573.509335 L 235.859723 569.099208 L 239.710837 564.341036 L 243.561951 559.231699 L 247.413066 553.771741 L 251.26418 547.965761 L 255.115294 541.822772 L 260.250113 533.132336 L 265.384932 523.914162 L 270.519751 514.231041 L 276.938274 501.595863 L 285.924207 483.266936 L 298.761254 456.992789 L 305.179778 444.42659 L 310.314597 434.919184 L 314.165711 428.207977 L 318.016825 421.926764 L 321.867939 416.136462 L 325.719053 410.894563 L 328.286463 407.731069 L 330.853872 404.849497 L 333.421282 402.263168 L 335.988691 399.984147 L 338.5561 398.023152 L 341.12351 396.389468 L 343.690919 395.090874 L 346.258329 394.133582 L 348.825738 393.522189 L 351.393148 393.259636 L 353.960557 393.347189 L 356.527967 393.784426 L 359.095376 394.56924 L 361.662785 395.697859 L 364.230195 397.164874 L 366.797604 398.963282 L 369.365014 401.084542 L 371.932423 403.518642 L 374.499833 406.254182 L 377.067242 409.278454 L 379.634651 412.57755 L 383.485766 418.008387 L 387.33688 423.968903 L 391.187994 430.400357 L 395.039108 437.240906 L 400.173927 446.887277 L 406.59245 459.572813 L 415.578383 477.970065 L 427.131726 501.595863 L 433.550249 514.231041 L 438.685068 523.914162 L 443.819887 533.132336 L 448.954706 541.822772 L 452.80582 547.965761 L 456.656934 553.771741 L 460.508049 559.231699 L 464.359163 564.341036 L 468.210277 569.099208 L 472.061391 573.509335 L 475.912505 577.577788 L 479.763619 581.313758 L 483.614733 584.728825 L 487.465848 587.83654 L 491.316962 590.652008 L 495.168076 593.191505 L 499.01919 595.472114 L 502.870304 597.511394 L 506.721418 599.327084 L 510.572532 600.936837 L 514.423647 602.357999 L 519.558465 603.988539 L 524.693284 605.351731 L 529.828103 606.483076 L 534.962922 607.415188 L 541.381446 608.344869 L 547.799969 609.060032 L 555.502198 609.695666 L 564.488131 610.207008 L 576.041473 610.613738 L 590.162225 610.876436 L 608.134091 611.019285 L 608.134091 611.019285" clip-path="url(#pec4d57082e)" style="fill: none; stroke: #4682b4; stroke-width: 2; stroke-linecap: round"/>
   </g>
   <g id="line2d_28">
    <path d="M 499.896 622.584 L 499.896 382.824" clip-path="url(#pec4d57082e)" style="fill: none; stroke-dasharray: 7.4,3.2; stroke-dashoffset: 0; stroke: #ffd700; stroke-width: 2"/>
   </g>
   <g id="line2d_29">
    <path d="M 205.416 622.584 L 205.416 382.824" clip-path="url(#pec4d57082e)" style="fill: none; stroke-dasharray: 7.4,3.2; stroke-dashoffset: 0; stroke: #ffd700; stroke-width: 2"/>
   </g>
   <g id="patch_10">
    <path d="M 70.416 622.224 L 70.416 382.464" style="fill: none; stroke: #cccccc; stroke-width: 1.25; stroke-linejoin: miter; stroke-linecap: square"/>
   </g>
   <g id="patch_11">
    <path d="M 633.456 622.224 L 633.456 382.464" style="fill: none; stroke: #cccccc; stroke-width: 1.25; stroke-linejoin: miter; stroke-linecap: square"/>
   </g>
   <g id="patch_12">
    <path d="M 70.416 622.224 L 633.456 622.224" style="fill: none; stroke: #cccccc; stroke-width: 1.25; stroke-linejoin: miter; stroke-linecap: square"/>
   </g>
   <g id="patch_13">
    <path d="M 70.416 382.464 L 633.456 382.464" style="fill: none; stroke: #cccccc; stroke-width: 1.25; stroke-linejoin: miter; stroke-linecap: square"/>
   </g>
   <g id="text_31">
    <g transform="translate(264.096 365.184) scale(0.72)" style="fill: #262626">
     <text xml:space="preserve"><tspan x="1" y="-7" style="font-style: oblique; font-size: 18.333px; font-family: 'DejaVu Sans', 'Liberation Sans', sans-serif">p</tspan><tspan x="12 19 30 41 46 57 69 77 82 94 101 107 114 126 137 142 154 165 171 183 194 200 208 219 224 235" y="-7" style="font-size: 18.333px; font-family: 'DejaVu Sans', 'Liberation Sans', sans-serif">-valeur et région de rejet</tspan></text>
    </g>
    <text transform="translate(272.016 378.864) scale(0.72)" style="font-size: 18.333px; font-family: 'DejaVu Sans', 'Liberation Sans', sans-serif; fill: #262626" x="0 7.25 14.5 25.75 35.25 42.5 48.375 60 65.125 70.25 81.5 88.75 100 107.625 118.875 124 129.875 141.5 152.75 158.625 172.75 184 195.5 205 214.5" y="-3">(test bilatéral de Gauss)</text>
   </g>
   <g id="legend_2">
    <g id="patch_14">
     <path d="M 276.656392 617.984 L 427.413608 617.984 Q 429.013608 617.984 429.013608 616.384 L 429.013608 574.368 Q 429.013608 572.768 427.413608 572.768 L 276.656392 572.768 Q 275.056392 572.768 275.056392 574.368 L 275.056392 616.384 Q 275.056392 617.984 276.656392 617.984 z
" style="fill: #ffffff; stroke: #cccccc; stroke-linejoin: miter; fill-opacity: 0.8; stroke-opacity: 0.8"/>
    </g>
    <g id="patch_15">
     <path d="M 278.856 583.704 L 294.696 583.704 L 294.696 577.944 L 278.856 577.944 z" style="fill: #ff6347; fill-opacity: 0.5; stroke: #ff6347; stroke-opacity: 0.5; stroke-linejoin: miter"/>
    </g>
    <g id="text_32">
     <g transform="translate(300.816 587.664) scale(0.72)" style="fill: #262626">
      <text xml:space="preserve"><tspan x="1 8 15 22 25 32 39 43 47 54 57 64 68" y="-5" style="font-size: 11.111px; font-family: 'DejaVu Sans', 'Liberation Sans', sans-serif">Région rejet </tspan><tspan x="72" y="-5" style="font-style: oblique; font-size: 11.111px; font-family: 'DejaVu Sans', 'Liberation Sans', sans-serif">α</tspan><tspan x="81 93 100 111 114 118 121" y="-5" style="font-size: 11.111px; font-family: 'DejaVu Sans', 'Liberation Sans', sans-serif">=5% : |</tspan><tspan x="125" y="-5" style="font-style: oblique; font-size: 11.111px; font-family: 'DejaVu Sans', 'Liberation Sans', sans-serif">z</tspan><tspan x="131 137 148 155 159 166" y="-5" style="font-size: 11.111px; font-family: 'DejaVu Sans', 'Liberation Sans', sans-serif">|&gt;1.96</tspan></text>
     </g>
    </g>
    <g id="patch_16">
     <path d="M 278.856 598.104 L 294.696 598.104 L 294.696 592.344 L 278.856 592.344 z" style="fill: #ffd700; fill-opacity: 0.7; stroke: #ffd700; stroke-opacity: 0.7; stroke-linejoin: miter"/>
    </g>
    <g id="text_33">
     <g transform="translate(300.816 602.064) scale(0.72)" style="fill: #262626">
      <text xml:space="preserve"><tspan x="1" y="-5" style="font-style: oblique; font-size: 11.111px; font-family: 'DejaVu Sans', 'Liberation Sans', sans-serif">p</tspan><tspan x="8 12 18 25 28 35 42 47 52 64 71 80 84 93" y="-5" style="font-size: 11.111px; font-family: 'DejaVu Sans', 'Liberation Sans', sans-serif">-valeur =2Φ(−|</tspan><tspan x="97" y="-5" style="font-style: oblique; font-size: 11.111px; font-family: 'DejaVu Sans', 'Liberation Sans', sans-serif">z</tspan><tspan x="103 108 113" y="-4" style="font-style: oblique; font-size: 7.778px; font-family: 'DejaVu Sans', 'Liberation Sans', sans-serif">obs</tspan><tspan x="117 121 127 139 146 149 156 163" y="-5" style="font-size: 11.111px; font-family: 'DejaVu Sans', 'Liberation Sans', sans-serif">|)=0.021</tspan></text>
     </g>
    </g>
    <g id="line2d_30">
     <path d="M 278.856 609.624 L 286.776 609.624 L 294.696 609.624" style="fill: none; stroke-dasharray: 7.4,3.2; stroke-dashoffset: 0; stroke: #ffd700; stroke-width: 2"/>
    </g>
    <g id="text_34">
     <g transform="translate(300.816 615.744) scale(0.72)" style="fill: #262626">
      <text xml:space="preserve"><tspan x="1" y="-5" style="font-style: oblique; font-size: 11.111px; font-family: 'DejaVu Sans', 'Liberation Sans', sans-serif">z</tspan><tspan x="6 11 16" y="-4" style="font-style: oblique; font-size: 7.778px; font-family: 'DejaVu Sans', 'Liberation Sans', sans-serif">obs</tspan><tspan x="23 34 41 45" y="-5" style="font-size: 11.111px; font-family: 'DejaVu Sans', 'Liberation Sans', sans-serif">=2.3</tspan></text>
     </g>
    </g>
   </g>
  </g>
  <g id="axes_3">
   <g id="patch_17">
    <path d="M 70.416 951.264 L 633.456 951.264 L 633.456 711.504 L 70.416 711.504 z" style="fill: #ffffff"/>
   </g>
   <g id="matplotlib.axis_5">
    <g id="xtick_26">
     <g id="line2d_31">
      <path d="M 95.976 951.624 L 95.976 711.864" clip-path="url(#p6d10bbb40d)" style="fill: none; stroke: #cccccc; stroke-linecap: round"/>
     </g>
     <g id="text_35">
      <text transform="translate(82.656 972.144) scale(0.72)" style="font-size: 16.806px; font-family: 'DejaVu Sans', 'Liberation Sans', sans-serif; fill: #262626" x="-1 12 22.625 27.875" y="-1">−2.0</text>
     </g>
    </g>
    <g id="xtick_27">
     <g id="line2d_32">
      <path d="M 160.056 951.624 L 160.056 711.864" clip-path="url(#p6d10bbb40d)" style="fill: none; stroke: #cccccc; stroke-linecap: round"/>
     </g>
     <g id="text_36">
      <text transform="translate(146.736 972.144) scale(0.72)" style="font-size: 16.806px; font-family: 'DejaVu Sans', 'Liberation Sans', sans-serif; fill: #262626" x="-1 12 22.625 27.875" y="-1">−1.5</text>
     </g>
    </g>
    <g id="xtick_28">
     <g id="line2d_33">
      <path d="M 224.136 951.624 L 224.136 711.864" clip-path="url(#p6d10bbb40d)" style="fill: none; stroke: #cccccc; stroke-linecap: round"/>
     </g>
     <g id="text_37">
      <text transform="translate(210.816 972.144) scale(0.72)" style="font-size: 16.806px; font-family: 'DejaVu Sans', 'Liberation Sans', sans-serif; fill: #262626" x="-1 12 22.625 27.875" y="-1">−1.0</text>
     </g>
    </g>
    <g id="xtick_29">
     <g id="line2d_34">
      <path d="M 288.216 951.624 L 288.216 711.864" clip-path="url(#p6d10bbb40d)" style="fill: none; stroke: #cccccc; stroke-linecap: round"/>
     </g>
     <g id="text_38">
      <text transform="translate(274.896 972.144) scale(0.72)" style="font-size: 16.806px; font-family: 'DejaVu Sans', 'Liberation Sans', sans-serif; fill: #262626" x="-1 12 22.625 27.875" y="-1">−0.5</text>
     </g>
    </g>
    <g id="xtick_30">
     <g id="line2d_35">
      <path d="M 352.296 951.624 L 352.296 711.864" clip-path="url(#p6d10bbb40d)" style="fill: none; stroke: #cccccc; stroke-linecap: round"/>
     </g>
     <g id="text_39">
      <text transform="translate(343.296 972.144) scale(0.72)" style="font-size: 16.806px; font-family: 'DejaVu Sans', 'Liberation Sans', sans-serif; fill: #262626" x="-1 8.625 13.875" y="-1">0.0</text>
     </g>
    </g>
    <g id="xtick_31">
     <g id="line2d_36">
      <path d="M 416.376 951.624 L 416.376 711.864" clip-path="url(#p6d10bbb40d)" style="fill: none; stroke: #cccccc; stroke-linecap: round"/>
     </g>
     <g id="text_40">
      <text transform="translate(407.376 972.144) scale(0.72)" style="font-size: 16.806px; font-family: 'DejaVu Sans', 'Liberation Sans', sans-serif; fill: #262626" x="-1 8.625 13.875" y="-1">0.5</text>
     </g>
    </g>
    <g id="xtick_32">
     <g id="line2d_37">
      <path d="M 480.456 951.624 L 480.456 711.864" clip-path="url(#p6d10bbb40d)" style="fill: none; stroke: #cccccc; stroke-linecap: round"/>
     </g>
     <g id="text_41">
      <text transform="translate(472.176 972.144) scale(0.72)" style="font-size: 16.806px; font-family: 'DejaVu Sans', 'Liberation Sans', sans-serif; fill: #262626" x="-1 8.625 13.875" y="-1">1.0</text>
     </g>
    </g>
    <g id="xtick_33">
     <g id="line2d_38">
      <path d="M 544.536 951.624 L 544.536 711.864" clip-path="url(#p6d10bbb40d)" style="fill: none; stroke: #cccccc; stroke-linecap: round"/>
     </g>
     <g id="text_42">
      <text transform="translate(536.256 972.144) scale(0.72)" style="font-size: 16.806px; font-family: 'DejaVu Sans', 'Liberation Sans', sans-serif; fill: #262626" x="-1 8.625 13.875" y="-1">1.5</text>
     </g>
    </g>
    <g id="xtick_34">
     <g id="line2d_39">
      <path d="M 608.616 951.624 L 608.616 711.864" clip-path="url(#p6d10bbb40d)" style="fill: none; stroke: #cccccc; stroke-linecap: round"/>
     </g>
     <g id="text_43">
      <text transform="translate(599.616 972.144) scale(0.72)" style="font-size: 16.806px; font-family: 'DejaVu Sans', 'Liberation Sans', sans-serif; fill: #262626" x="-1 8.625 13.875" y="-1">2.0</text>
     </g>
    </g>
    <g id="text_44">
     <g transform="translate(300.816 994.464) scale(0.72)" style="fill: #262626">
      <text xml:space="preserve"><tspan x="1" y="-7" style="font-style: oblique; font-size: 18.333px; font-family: 'DejaVu Sans', 'Liberation Sans', sans-serif">μ</tspan><tspan x="12 18 25 36 44 55 60 72 77 88 100 105 116 128 135" y="-7" style="font-size: 18.333px; font-family: 'DejaVu Sans', 'Liberation Sans', sans-serif"> (vraie valeur)</tspan></text>
     </g>
    </g>
   </g>
   <g id="matplotlib.axis_6">
    <g id="ytick_26">
     <g id="line2d_40">
      <path d="M 70.776 951.624 L 633.816 951.624" clip-path="url(#p6d10bbb40d)" style="fill: none; stroke: #cccccc; stroke-linecap: round"/>
     </g>
     <g id="text_45">
      <text transform="translate(42.336 957.744) scale(0.72)" style="font-size: 16.806px; font-family: 'DejaVu Sans', 'Liberation Sans', sans-serif; fill: #262626" x="-1 8.625 13.875" y="-1">0.0</text>
     </g>
    </g>
    <g id="ytick_27">
     <g id="line2d_41">
      <path d="M 70.776 906.264 L 633.816 906.264" clip-path="url(#p6d10bbb40d)" style="fill: none; stroke: #cccccc; stroke-linecap: round"/>
     </g>
     <g id="text_46">
      <text transform="translate(42.336 911.664) scale(0.72)" style="font-size: 16.806px; font-family: 'DejaVu Sans', 'Liberation Sans', sans-serif; fill: #262626" x="-1 8.625 13.875" y="-1">0.2</text>
     </g>
    </g>
    <g id="ytick_28">
     <g id="line2d_42">
      <path d="M 70.776 860.184 L 633.816 860.184" clip-path="url(#p6d10bbb40d)" style="fill: none; stroke: #cccccc; stroke-linecap: round"/>
     </g>
     <g id="text_47">
      <text transform="translate(42.336 866.304) scale(0.72)" style="font-size: 16.806px; font-family: 'DejaVu Sans', 'Liberation Sans', sans-serif; fill: #262626" x="-1 8.625 13.875" y="-1">0.4</text>
     </g>
    </g>
    <g id="ytick_29">
     <g id="line2d_43">
      <path d="M 70.776 814.824 L 633.816 814.824" clip-path="url(#p6d10bbb40d)" style="fill: none; stroke: #cccccc; stroke-linecap: round"/>
     </g>
     <g id="text_48">
      <text transform="translate(42.336 820.224) scale(0.72)" style="font-size: 16.806px; font-family: 'DejaVu Sans', 'Liberation Sans', sans-serif; fill: #262626" x="-1 8.625 13.875" y="-1">0.6</text>
     </g>
    </g>
    <g id="ytick_30">
     <g id="line2d_44">
      <path d="M 70.776 769.464 L 633.816 769.464" clip-path="url(#p6d10bbb40d)" style="fill: none; stroke: #cccccc; stroke-linecap: round"/>
     </g>
     <g id="text_49">
      <text transform="translate(42.336 774.864) scale(0.72)" style="font-size: 16.806px; font-family: 'DejaVu Sans', 'Liberation Sans', sans-serif; fill: #262626" x="-1 8.625 13.875" y="-1">0.8</text>
     </g>
    </g>
    <g id="ytick_31">
     <g id="line2d_45">
      <path d="M 70.776 723.384 L 633.816 723.384" clip-path="url(#p6d10bbb40d)" style="fill: none; stroke: #cccccc; stroke-linecap: round"/>
     </g>
     <g id="text_50">
      <text transform="translate(43.056 729.504) scale(0.72)" style="font-size: 16.806px; font-family: 'DejaVu Sans', 'Liberation Sans', sans-serif; fill: #262626" x="-1 8.625 13.875" y="-1">1.0</text>
     </g>
    </g>
    <g id="text_51">
     <g transform="translate(38.016 885.024) rotate(-90) scale(0.72)" style="fill: #262626">
      <text xml:space="preserve"><tspan x="1 12 23 28 38 47 59 70 80 92 98 113" y="-7" style="font-size: 18.333px; font-family: 'DejaVu Sans', 'Liberation Sans', sans-serif">Puissance 1−</tspan><tspan x="132" y="-7" style="font-style: oblique; font-size: 18.333px; font-family: 'DejaVu Sans', 'Liberation Sans', sans-serif">β</tspan></text>
     </g>
    </g>
   </g>
   <g id="line2d_46">
    <path d="M 95.935909 723.239739 L 139.581869 723.353941 L 153.702621 723.61521 L 162.688554 723.992036 L 170.390783 724.555159 L 176.809306 725.282477 L 181.944125 726.097121 L 187.078944 727.179042 L 190.930058 728.204561 L 194.781172 729.446953 L 198.632286 730.938541 L 202.483401 732.713194 L 206.334515 734.805633 L 210.185629 737.250563 L 214.036743 740.081663 L 216.604152 742.199281 L 219.171562 744.511139 L 221.738971 747.02493 L 225.590085 751.188522 L 229.4412 755.838542 L 233.292314 760.985088 L 237.143428 766.629921 L 240.994542 772.765565 L 244.845656 779.374673 L 248.69677 786.4297 L 252.547884 793.892932 L 257.682703 804.395516 L 262.817522 815.401508 L 270.519751 832.499679 L 283.356798 861.062093 L 288.491617 871.979818 L 293.626435 882.359274 L 297.47755 889.706986 L 301.328664 896.625806 L 305.179778 903.076508 L 309.030892 909.029043 L 312.882006 914.462299 L 316.73312 919.363476 L 319.30053 922.332385 L 321.867939 925.062256 L 324.435349 927.554118 L 327.002758 929.809853 L 329.570167 931.83201 L 332.137577 933.623599 L 334.704986 935.187903 L 337.272396 936.528289 L 339.839805 937.648032 L 342.407215 938.550157 L 344.974624 939.237303 L 347.542033 939.711603 L 350.109443 939.974592 L 352.676852 940.027146 L 355.244262 939.869441 L 357.811671 939.500948 L 360.379081 938.920456 L 362.94649 938.126121 L 365.5139 937.115544 L 368.081309 935.885877 L 370.648718 934.433951 L 373.216128 932.756424 L 375.783537 930.849949 L 378.350947 928.711355 L 380.918356 926.337838 L 383.485766 923.727158 L 386.053175 920.877836 L 388.620584 917.789345 L 392.471699 912.709863 L 396.322813 907.101698 L 400.173927 900.98033 L 404.025041 894.369798 L 407.876155 887.303202 L 411.727269 879.822818 L 416.862088 869.294948 L 421.996907 858.266875 L 429.699135 841.150904 L 441.252478 815.401508 L 446.387297 804.395516 L 451.522116 793.892932 L 455.37323 786.4297 L 459.224344 779.374673 L 463.075458 772.765565 L 466.926572 766.629921 L 470.777686 760.985088 L 474.6288 755.838542 L 478.479915 751.188522 L 482.331029 747.02493 L 486.182143 743.330427 L 490.033257 740.081663 L 493.884371 737.250563 L 497.735485 734.805633 L 501.586599 732.713194 L 505.437714 730.938541 L 509.288828 729.446953 L 513.139942 728.204561 L 516.991056 727.179042 L 522.125875 726.097121 L 527.260694 725.282477 L 532.395513 724.678852 L 538.814036 724.149456 L 546.516265 723.748394 L 556.785902 723.461714 L 572.190359 723.296157 L 604.282977 723.240521 L 608.134091 723.239739 L 608.134091 723.239739" clip-path="url(#p6d10bbb40d)" style="fill: none; stroke: #add8e6; stroke-width: 1.5; stroke-linecap: round"/>
   </g>
   <g id="line2d_47">
    <path d="M 95.935909 723.238286 L 216.604152 723.338002 L 225.590085 723.57001 L 232.008609 723.968098 L 237.143428 724.553742 L 240.994542 725.235926 L 244.845656 726.210404 L 247.413066 727.068243 L 249.980475 728.129593 L 252.547884 729.429611 L 255.115294 731.006058 L 257.682703 732.898613 L 260.250113 735.14796 L 262.817522 737.79465 L 265.384932 740.877756 L 267.952341 744.433357 L 270.519751 748.49289 L 273.08716 753.081465 L 275.654569 758.216203 L 278.221979 763.904695 L 280.789388 770.143683 L 283.356798 776.918057 L 285.924207 784.200238 L 289.775321 795.984363 L 293.626435 808.631362 L 298.761254 826.414925 L 310.314597 866.887109 L 314.165711 879.455232 L 318.016825 891.126028 L 320.584234 898.310199 L 323.151644 904.964889 L 325.719053 911.057889 L 328.286463 916.567824 L 330.853872 921.4832 L 333.421282 925.801052 L 335.988691 929.525283 L 338.5561 932.6648 L 341.12351 935.231587 L 343.690919 937.2388 L 344.974624 938.036563 L 346.258329 938.699021 L 347.542033 939.227409 L 348.825738 939.622761 L 350.109443 939.885875 L 351.393148 940.017293 L 352.676852 940.017293 L 353.960557 939.885875 L 355.244262 939.622761 L 356.527967 939.227409 L 357.811671 938.699021 L 359.095376 938.036563 L 360.379081 937.2388 L 361.662785 936.304322 L 364.230195 934.018969 L 366.797604 931.167431 L 369.365014 927.736908 L 371.932423 923.716712 L 374.499833 919.100198 L 377.067242 913.886675 L 379.634651 908.083181 L 382.202061 901.706004 L 384.76947 894.781847 L 387.33688 887.348537 L 391.187994 875.354465 L 395.039108 862.539228 L 400.173927 844.626621 L 409.15986 812.998586 L 413.010974 800.115013 L 416.862088 788.019683 L 419.429498 780.497889 L 421.996907 773.465374 L 424.564316 766.956034 L 427.131726 760.991165 L 429.699135 755.579849 L 432.266545 750.719771 L 434.833954 746.398394 L 437.401364 742.594402 L 439.968773 739.279307 L 442.536183 736.419143 L 445.103592 733.976135 L 447.671001 731.910291 L 450.238411 730.180837 L 452.80582 728.747462 L 455.37323 727.571349 L 457.940639 726.615967 L 460.508049 725.847643 L 464.359163 724.980206 L 468.210277 724.377509 L 473.345096 723.864525 L 479.763619 723.519643 L 488.749552 723.321482 L 505.437714 723.24465 L 608.134091 723.238286 L 608.134091 723.238286" clip-path="url(#p6d10bbb40d)" style="fill: none; stroke: #4682b4; stroke-width: 2; stroke-linecap: round"/>
   </g>
   <g id="line2d_48">
    <path d="M 95.935909 723.238286 L 284.640502 723.347357 L 288.491617 723.543879 L 291.059026 723.817885 L 293.626435 724.297542 L 296.193845 725.104221 L 297.47755 725.681147 L 298.761254 726.407596 L 300.044959 727.313178 L 301.328664 728.430787 L 302.612368 729.796284 L 303.896073 731.447982 L 305.179778 733.425905 L 306.463483 735.770819 L 307.747187 738.523039 L 309.030892 741.72104 L 310.314597 745.399894 L 311.598301 749.589618 L 312.882006 754.313476 L 314.165711 759.586344 L 315.449416 765.413214 L 318.016825 778.69235 L 320.584234 793.954665 L 323.151644 810.806899 L 328.286463 846.89698 L 332.137577 873.269164 L 334.704986 889.252102 L 337.272396 903.352807 L 338.5561 909.588644 L 339.839805 915.245788 L 341.12351 920.310389 L 342.407215 924.777494 L 343.690919 928.649457 L 344.974624 931.934117 L 346.258329 934.642868 L 347.542033 936.788744 L 348.825738 938.384623 L 350.109443 939.441659 L 351.393148 939.968022 L 352.676852 939.968022 L 353.960557 939.441659 L 355.244262 938.384623 L 356.527967 936.788744 L 357.811671 934.642868 L 359.095376 931.934117 L 360.379081 928.649457 L 361.662785 924.777494 L 362.94649 920.310389 L 364.230195 915.245788 L 365.5139 909.588644 L 366.797604 903.352807 L 369.365014 889.252102 L 371.932423 873.269164 L 375.783537 846.89698 L 380.918356 810.806899 L 383.485766 793.954665 L 386.053175 778.69235 L 388.620584 765.413214 L 389.904289 759.586344 L 391.187994 754.313476 L 392.471699 749.589618 L 393.755403 745.399894 L 395.039108 741.72104 L 396.322813 738.523039 L 397.606517 735.770819 L 398.890222 733.425905 L 400.173927 731.447982 L 401.457632 729.796284 L 402.741336 728.430787 L 404.025041 727.313178 L 405.308746 726.407596 L 406.59245 725.681147 L 407.876155 725.104221 L 410.443565 724.297542 L 413.010974 723.817885 L 416.862088 723.457099 L 421.996907 723.290642 L 433.550249 723.239487 L 608.134091 723.238286 L 608.134091 723.238286" clip-path="url(#p6d10bbb40d)" style="fill: none; stroke: #ff6347; stroke-width: 2; stroke-linecap: round"/>
   </g>
   <g id="line2d_49">
    <path d="M 70.776 940.104 L 633.816 940.104" clip-path="url(#p6d10bbb40d)" style="fill: none; stroke-dasharray: 1,1.65; stroke-dashoffset: 0; stroke: #808080"/>
   </g>
   <g id="line2d_50">
    <path d="M 70.776 769.464 L 633.816 769.464" clip-path="url(#p6d10bbb40d)" style="fill: none; stroke-dasharray: 3.7,1.6; stroke-dashoffset: 0; stroke: #808080; stroke-opacity: 0.5"/>
   </g>
   <g id="patch_18">
    <path d="M 70.416 951.264 L 70.416 711.504" style="fill: none; stroke: #cccccc; stroke-width: 1.25; stroke-linejoin: miter; stroke-linecap: square"/>
   </g>
   <g id="patch_19">
    <path d="M 633.456 951.264 L 633.456 711.504" style="fill: none; stroke: #cccccc; stroke-width: 1.25; stroke-linejoin: miter; stroke-linecap: square"/>
   </g>
   <g id="patch_20">
    <path d="M 70.416 951.264 L 633.456 951.264" style="fill: none; stroke: #cccccc; stroke-width: 1.25; stroke-linejoin: miter; stroke-linecap: square"/>
   </g>
   <g id="patch_21">
    <path d="M 70.416 711.504 L 633.456 711.504" style="fill: none; stroke: #cccccc; stroke-width: 1.25; stroke-linejoin: miter; stroke-linecap: square"/>
   </g>
   <g id="text_52">
    <text transform="translate(282.816 694.224) scale(0.72)" style="font-size: 18.333px; font-family: 'DejaVu Sans', 'Liberation Sans', sans-serif; fill: #262626" x="0 12.75 24 35.5 43.125 54.75 66 71.875 83.5 94.75 100.625 112.25 123.75 128.875 138.375 147.875 159.125 170.75 180.875" y="-5">Courbe de puissance</text>
    <g transform="translate(260.496 711.504) scale(0.72)" style="fill: #262626">
     <text xml:space="preserve"><tspan x="1" y="-7" style="font-style: oblique; font-size: 18.333px; font-family: 'DejaVu Sans', 'Liberation Sans', sans-serif">H</tspan><tspan x="14" y="-4" style="font-size: 12.833px; font-family: 'DejaVu Sans', 'Liberation Sans', sans-serif">0</tspan><tspan x="27" y="-7" style="font-size: 18.333px; font-family: 'DejaVu Sans', 'Liberation Sans', sans-serif">:</tspan><tspan x="36" y="-7" style="font-style: oblique; font-size: 18.333px; font-family: 'DejaVu Sans', 'Liberation Sans', sans-serif">μ</tspan><tspan x="52 71 82 88 99 109" y="-7" style="font-size: 18.333px; font-family: 'DejaVu Sans', 'Liberation Sans', sans-serif">=0 vs </tspan><tspan x="114" y="-7" style="font-style: oblique; font-size: 18.333px; font-family: 'DejaVu Sans', 'Liberation Sans', sans-serif">H</tspan><tspan x="128" y="-4" style="font-size: 12.833px; font-family: 'DejaVu Sans', 'Liberation Sans', sans-serif">1</tspan><tspan x="140" y="-7" style="font-size: 18.333px; font-family: 'DejaVu Sans', 'Liberation Sans', sans-serif">:</tspan><tspan x="150" y="-7" style="font-style: oblique; font-size: 18.333px; font-family: 'DejaVu Sans', 'Liberation Sans', sans-serif">μ</tspan><tspan x="166 185 196 202" y="-7" style="font-size: 18.333px; font-family: 'DejaVu Sans', 'Liberation Sans', sans-serif">≠0, </tspan><tspan x="208" y="-7" style="font-style: oblique; font-size: 18.333px; font-family: 'DejaVu Sans', 'Liberation Sans', sans-serif">σ</tspan><tspan x="223 242" y="-7" style="font-size: 18.333px; font-family: 'DejaVu Sans', 'Liberation Sans', sans-serif">=1</tspan></text>
    </g>
   </g>
   <g id="legend_3">
    <g id="patch_22">
     <path d="M 530.964 867.996 L 627.444 867.996 Q 629.244 867.996 629.244 866.196 L 629.244 797.076 Q 629.244 795.276 627.444 795.276 L 530.964 795.276 Q 529.164 795.276 529.164 797.076 L 529.164 866.196 Q 529.164 867.996 530.964 867.996 z
" style="fill: #ffffff; stroke: #cccccc; stroke-linejoin: miter; fill-opacity: 0.8; stroke-opacity: 0.8"/>
    </g>
    <g id="line2d_51">
     <path d="M 532.656 802.944 L 542.016 802.944 L 550.656 802.944" style="fill: none; stroke: #add8e6; stroke-width: 1.5; stroke-linecap: round"/>
    </g>
    <g id="text_53">
     <g transform="translate(557.856 808.704) scale(0.72)" style="fill: #262626">
      <text xml:space="preserve"><tspan x="1" y="-3" style="font-style: oblique; font-size: 12.5px; font-family: 'DejaVu Sans', 'Liberation Sans', sans-serif">n</tspan><tspan x="11 24 32" y="-3" style="font-size: 12.5px; font-family: 'DejaVu Sans', 'Liberation Sans', sans-serif">=10</tspan></text>
     </g>
    </g>
    <g id="line2d_52">
     <path d="M 533.016 816.984 L 542.376 816.984 L 551.016 816.984" style="fill: none; stroke: #4682b4; stroke-width: 2; stroke-linecap: round"/>
    </g>
    <g id="text_54">
     <g transform="translate(557.856 822.384) scale(0.72)" style="fill: #262626">
      <text xml:space="preserve"><tspan x="1" y="-3" style="font-style: oblique; font-size: 12.5px; font-family: 'DejaVu Sans', 'Liberation Sans', sans-serif">n</tspan><tspan x="11 24 32" y="-3" style="font-size: 12.5px; font-family: 'DejaVu Sans', 'Liberation Sans', sans-serif">=25</tspan></text>
     </g>
    </g>
    <g id="line2d_53">
     <path d="M 533.016 830.664 L 542.376 830.664 L 551.016 830.664" style="fill: none; stroke: #ff6347; stroke-width: 2; stroke-linecap: round"/>
    </g>
    <g id="text_55">
     <g transform="translate(557.856 836.064) scale(0.72)" style="fill: #262626">
      <text xml:space="preserve"><tspan x="1" y="-3" style="font-style: oblique; font-size: 12.5px; font-family: 'DejaVu Sans', 'Liberation Sans', sans-serif">n</tspan><tspan x="11 24 32 40" y="-3" style="font-size: 12.5px; font-family: 'DejaVu Sans', 'Liberation Sans', sans-serif">=100</tspan></text>
     </g>
    </g>
    <g id="line2d_54">
     <path d="M 533.016 845.784 L 542.376 845.784 L 551.016 845.784" style="fill: none; stroke-dasharray: 1,1.65; stroke-dashoffset: 0; stroke: #808080"/>
    </g>
    <g id="text_56">
     <g transform="translate(557.856 850.464) scale(0.72)" style="fill: #262626">
      <text xml:space="preserve"><tspan x="1 10 13 21 28 36 44" y="-3" style="font-size: 12.5px; font-family: 'DejaVu Sans', 'Liberation Sans', sans-serif">Niveau </tspan><tspan x="48" y="-3" style="font-style: oblique; font-size: 12.5px; font-family: 'DejaVu Sans', 'Liberation Sans', sans-serif">α</tspan><tspan x="59 72 80" y="-3" style="font-size: 12.5px; font-family: 'DejaVu Sans', 'Liberation Sans', sans-serif">=5%</tspan></text>
     </g>
    </g>
    <g id="line2d_55">
     <path d="M 533.016 859.464 L 542.376 859.464 L 551.016 859.464" style="fill: none; stroke-dasharray: 3.7,1.6; stroke-dashoffset: 0; stroke: #808080; stroke-opacity: 0.5"/>
    </g>
    <g id="text_57">
     <text transform="translate(557.856 863.424) scale(0.72)" style="font-size: 12.5px; font-family: 'DejaVu Sans', 'Liberation Sans', sans-serif; fill: #262626" x="0 7.25 15.125 18.625 25.125 31.625 39.375 47.25 54.25 62 66 74 82" y="-1">Puissance 80%</text>
    </g>
   </g>
  </g>
 </g>
 <defs>
  <clipPath id="p249465bc38">
   <rect x="70.326" y="52.908" width="563.418" height="239.616"/>
  </clipPath>
  <clipPath id="pec4d57082e">
   <rect x="70.326" y="382.368" width="563.418" height="239.616"/>
  </clipPath>
  <clipPath id="p6d10bbb40d">
   <rect x="70.326" y="711.828" width="563.418" height="239.616"/>
  </clipPath>
 </defs>
</svg>

</div>
</body>
</html>
